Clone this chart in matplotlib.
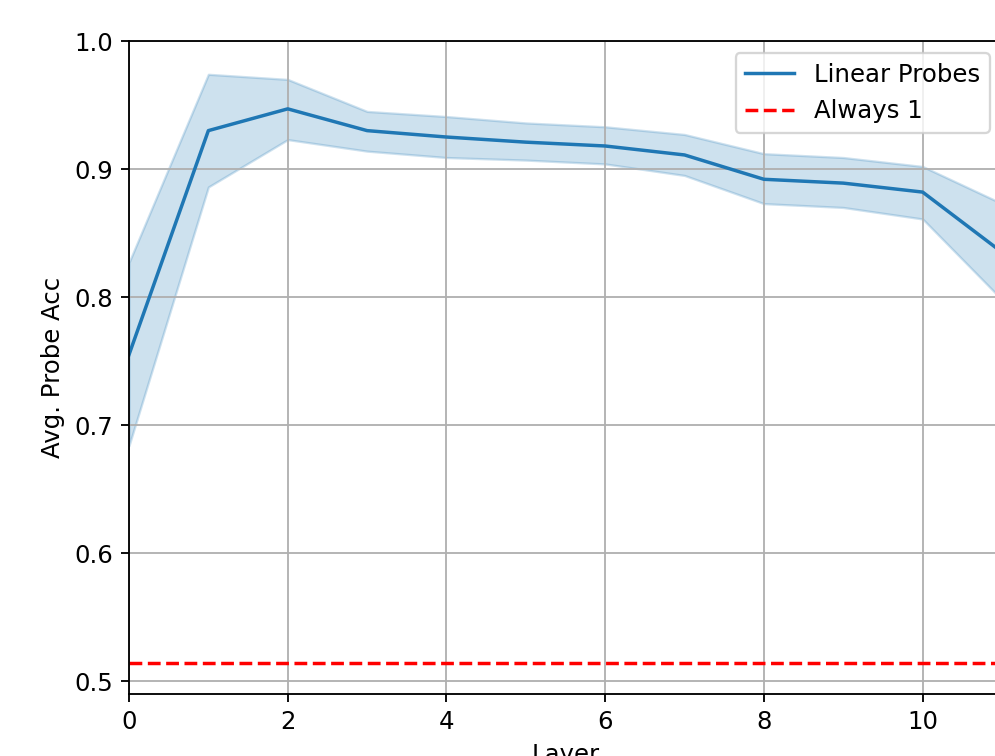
import numpy as np
import matplotlib
matplotlib.use('Agg')
import matplotlib.pyplot as plt

layers = [0, 1, 2, 3, 4, 5, 6, 7, 8, 9, 10, 11]
mean_acc = [0.755, 0.930, 0.947, 0.930, 0.925, 0.921, 0.918, 0.911, 0.892, 0.889, 0.882, 0.835]
upper_acc = [0.827, 0.974, 0.970, 0.945, 0.941, 0.936, 0.933, 0.927, 0.912, 0.909, 0.902, 0.873]
lower_acc = [0.684, 0.886, 0.923, 0.914, 0.909, 0.907, 0.904, 0.895, 0.873, 0.870, 0.861, 0.798]
always_one = 0.514

plt.rcParams['font.size'] = 10.6

dpi = 166
fig = plt.figure(figsize=(995 / dpi, 756 / dpi), dpi=dpi)
# axes runs past the right edge, as in the cropped reference
ax = fig.add_axes([129 / 995, 62 / 756, 873 / 995, 653 / 756])

ax.plot(layers, mean_acc, color='#1f77b4', label='Linear Probes')
ax.fill_between(layers, lower_acc, upper_acc, color='#1f77b4', alpha=0.22)
ax.axhline(always_one, color='red', linestyle='--', label='Always 1')

ax.set_xlim(0, 11)
ax.set_ylim(0.49, 1.0)
ax.set_xticks([0, 2, 4, 6, 8, 10])
ax.set_yticks([0.5, 0.6, 0.7, 0.8, 0.9, 1.0])
ax.grid(True)
ax.set_xlabel('Layer')
ax.set_ylabel('Avg. Probe Acc')
ax.legend(loc='upper right')

plt.savefig('out.png', dpi=dpi)
